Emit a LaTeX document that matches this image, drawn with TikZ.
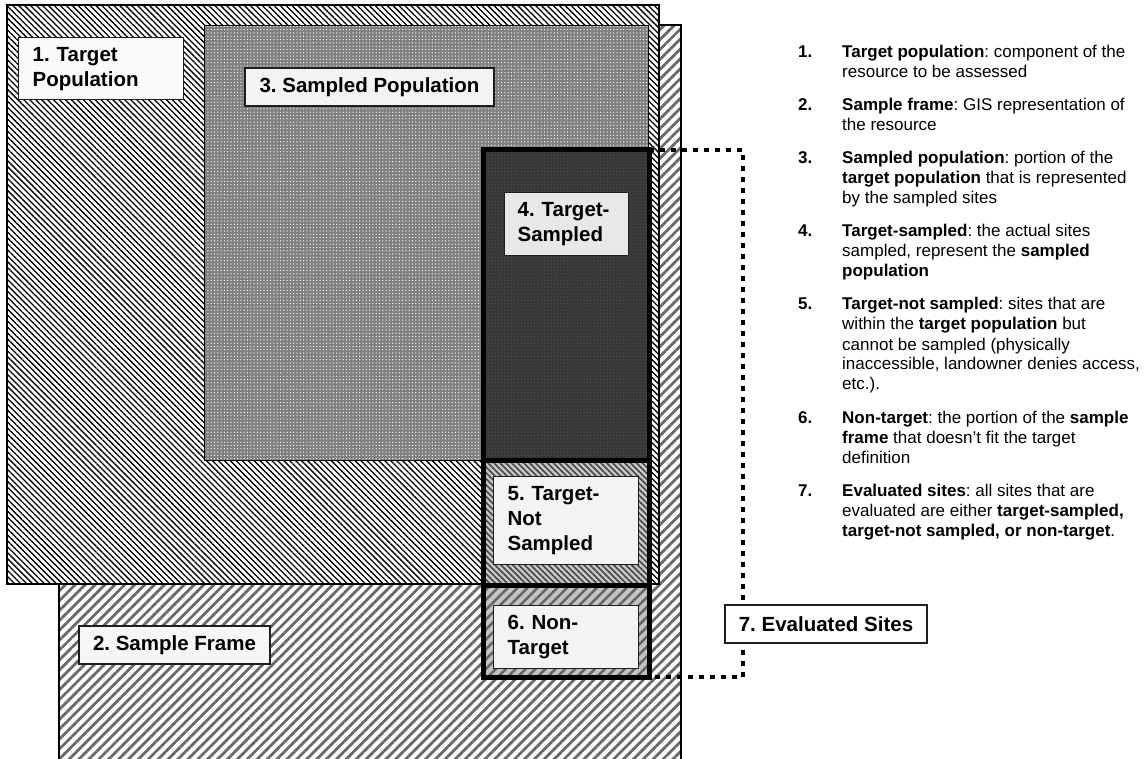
\documentclass[tikz,border=0pt]{standalone}
\usepackage{fontspec}
\setmainfont{Liberation Sans}
\frenchspacing
\usetikzlibrary{patterns.meta}
\definecolor{sfline}{RGB}{105,105,105}
\definecolor{spfill}{RGB}{128,128,128}
\definecolor{cfour}{RGB}{55,55,55}
\definecolor{cfourdot}{RGB}{78,78,78}
\definecolor{cfive}{RGB}{200,200,200}
\definecolor{cfiveline}{RGB}{70,70,70}
\definecolor{csix}{RGB}{195,195,195}
\definecolor{csixline}{RGB}{100,100,100}
\definecolor{lblborder}{RGB}{30,30,30}
\tikzset{
  edgeline/.style={line width=1.2pt, draw=black},
  lbl/.style={draw=lblborder, line width=1.3pt, inner sep=0pt,
    font=\fontsize{20.5}{25}\selectfont\bfseries, align=left},
  lblc/.style={lbl, align=center},
  num/.style={anchor=base west, inner sep=0pt, font=\fontsize{17}{20}\selectfont\bfseries},
  desc/.style={anchor=base west, inner sep=0pt, font=\fontsize{17}{20}\selectfont},
  dotline/.style={line width=4.5pt, dash pattern=on 5pt off 6pt},
  thickbox/.style={line width=5pt, draw=black}
}
\begin{document}
\begin{tikzpicture}[x=1pt,y=-1pt]
\useasboundingbox (0,0) rectangle (1146,759);
\clip (0,0) rectangle (1146,759);
% 2. Sample frame
\path[fill=white] (59,25) rectangle (681,790);
\path[pattern={Lines[angle=45,distance=7pt,line width=2.8pt]}, pattern color=sfline] (59,25) rectangle (681,790);
\draw[edgeline] (59,790) -- (59,25) -- (681,25) -- (681,790);
% 1. Target population
\path[fill=white] (7,5) rectangle (659,584);
\path[pattern={Lines[angle=-45,distance=4.2pt,line width=1.3pt]}, pattern color=black] (7,5) rectangle (659,584);
\draw[edgeline] (7,5) rectangle (659,584);
% 3. Sampled population
\path[fill=spfill] (204,26) rectangle (648,460);
\path[pattern={Dots[distance=3.3pt,radius=0.65pt]}, pattern color=white] (204,26) rectangle (648,460);
\draw[edgeline, line width=1pt] (204,26) rectangle (648,460);
% evaluated column
\path[fill=cfour] (483,150) rectangle (649,460);
\path[pattern={Dots[distance=3.3pt,radius=0.7pt]}, pattern color=cfourdot] (483,150) rectangle (649,460);
\path[fill=cfive] (483,460) rectangle (649,585);
\path[pattern={Lines[angle=-45,distance=4.2pt,line width=1.6pt]}, pattern color=cfiveline] (483,460) rectangle (649,585);
\path[fill=csix] (483,585) rectangle (649,677);
\path[pattern={Lines[angle=45,distance=7pt,line width=2.5pt]}, pattern color=csixline] (483,585) rectangle (649,677);
\coordinate (ctop) at (649,150);
\coordinate (cbot) at (649,677);
\coordinate (rtop) at (743,150);
\coordinate (rbot) at (743,677);
\draw[dotline] (ctop) -- (rtop) -- (rbot) -- (cbot);
\draw[thickbox] (483,150) rectangle (649,677);
\draw[thickbox] (483,460) -- (649,460);
\draw[thickbox] (483,585) -- (649,585);
% labels
\node[lbl, fill={rgb,255:red,250;green,250;blue,250}, anchor=north west, text width=137pt, inner xsep=14pt, minimum height=62pt] (l1) at (18,37) {1. Target\\Population};
\node[lblc, fill={rgb,255:red,246;green,246;blue,246}, minimum width=191pt, minimum height=38pt] (l2) at (174.5,645) {2. Sample Frame};
\node[lblc, fill={rgb,255:red,243;green,243;blue,243}, minimum width=249pt, minimum height=38pt] (l3) at (369.5,87) {3. Sampled Population};
\node[lbl, fill={rgb,255:red,232;green,232;blue,232}, anchor=north west, text width=98pt, inner xsep=13pt, minimum height=63pt] (l4) at (504,192) {4. Target-\\Sampled};
\node[lbl, fill={rgb,255:red,243;green,243;blue,243}, anchor=north west, text width=117pt, inner xsep=14pt, minimum height=88pt] (l5) at (493,476) {5. Target-\\Not\\Sampled};
\node[lbl, fill={rgb,255:red,243;green,243;blue,243}, anchor=north west, text width=117pt, inner xsep=14pt, minimum height=63pt] (l6) at (493,605) {6. Non-\\Target};
\node[lblc, fill=white, minimum width=202pt, minimum height=38pt] (l7) at (826,624) {7. Evaluated Sites};
% legend text
\node[num] (n1) at (798,58) {1.};
\node[desc] (d1) at (842,58) {\begin{tabular}[t]{@{}l@{}}\textbf{Target population}: component of the\\resource to be assessed\end{tabular}};
\node[num] (n2) at (798,111) {2.};
\node[desc] (d2) at (842,111) {\begin{tabular}[t]{@{}l@{}}\textbf{Sample frame}: GIS representation of\\the resource\end{tabular}};
\node[num] (n3) at (798,164) {3.};
\node[desc] (d3) at (842,164) {\begin{tabular}[t]{@{}l@{}}\textbf{Sampled population}: portion of the\\\textbf{target population} that is represented\\by the sampled sites\end{tabular}};
\node[num] (n4) at (798,237) {4.};
\node[desc] (d4) at (842,237) {\begin{tabular}[t]{@{}l@{}}\textbf{Target-sampled}: the actual sites\\sampled, represent the \textbf{sampled}\\\textbf{population}\end{tabular}};
\node[num] (n5) at (798,310) {5.};
\node[desc] (d5) at (842,310) {\begin{tabular}[t]{@{}l@{}}\textbf{Target-not sampled}: sites that are\\within the \textbf{target population} but\\cannot be sampled (physically\\inaccessible, landowner denies access,\\etc.).\end{tabular}};
\node[num] (n6) at (798,423) {6.};
\node[desc] (d6) at (842,423) {\begin{tabular}[t]{@{}l@{}}\textbf{Non-target}: the portion of the \textbf{sample}\\\textbf{frame} that doesn’t fit the target\\definition\end{tabular}};
\node[num] (n7) at (798,496) {7.};
\node[desc] (d7) at (842,496) {\begin{tabular}[t]{@{}l@{}}\textbf{Evaluated sites}: all sites that are\\evaluated are either \textbf{target-sampled,}\\\textbf{target-not sampled, or non-target}.\end{tabular}};
\end{tikzpicture}
\end{document}
